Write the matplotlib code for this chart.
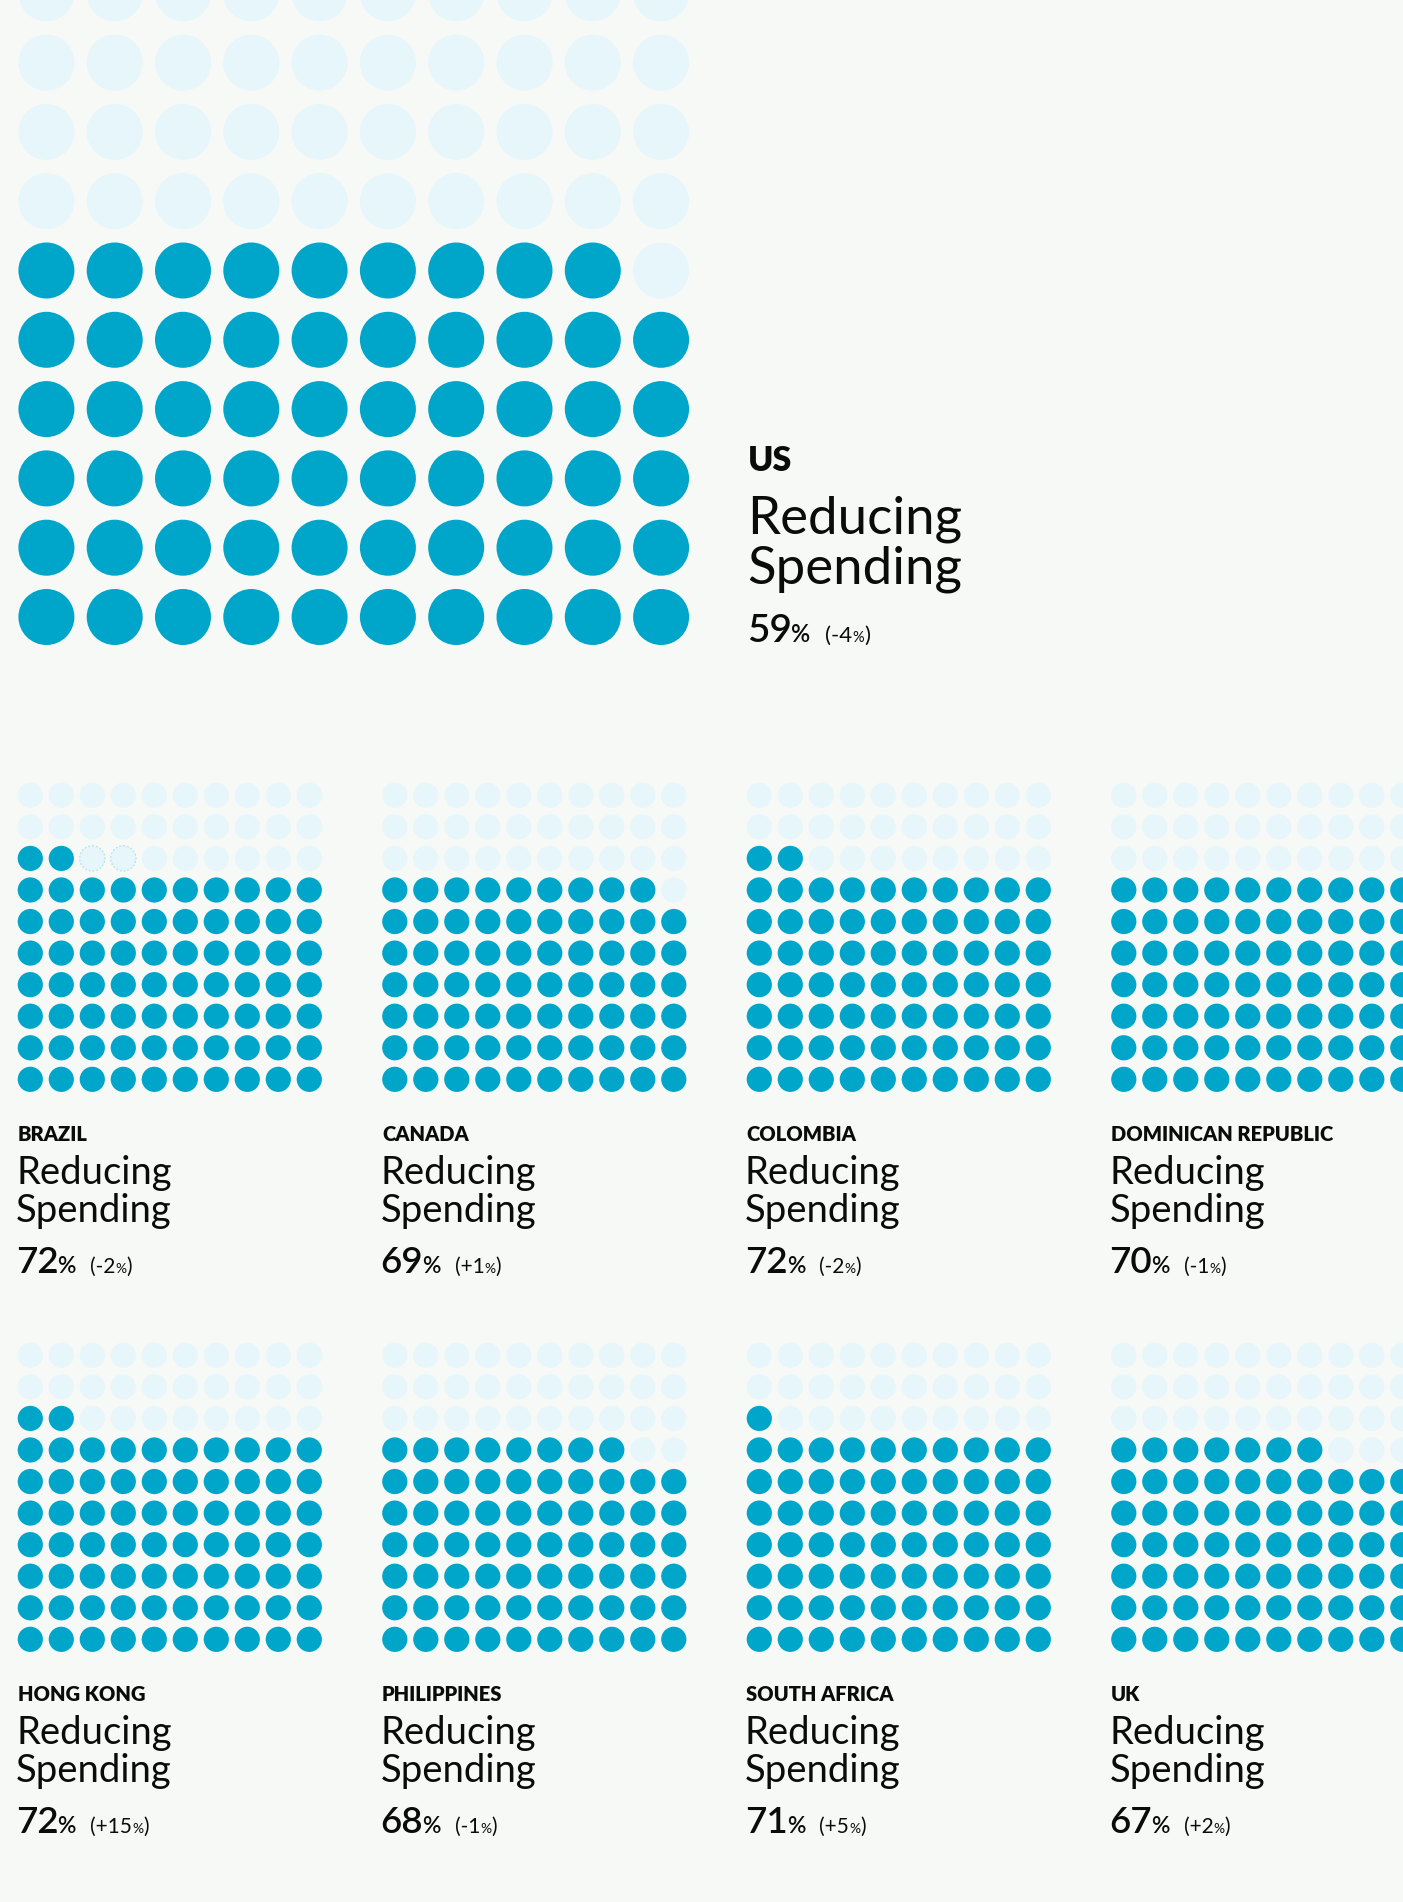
import matplotlib
matplotlib.use("Agg")
import matplotlib.pyplot as plt
from matplotlib.patches import Circle

# data
countries = ["BRAZIL", "CANADA", "COLOMBIA", "DOMINICAN REPUBLIC",
             "HONG KONG", "PHILIPPINES", "SOUTH AFRICA", "UK"]
shares = [72, 69, 72, 70, 72, 68, 71, 67]
changes = ["-2", "+1", "-2", "-1", "+15", "-1", "+5", "+2"]
us_name = "US"
us_share = 59
us_change = "-4"
metric = "Reducing\nSpending"

BG = "#F7F9F6"
FULL = "#00A6C9"
EMPTY = "#E6F6FB"
INK = "#0B0B0B"
FONT = "Lato"

W, H = 1403, 1902
fig = plt.figure(figsize=(W / 100, H / 100), dpi=100)
fig.patch.set_facecolor(BG)
ax = fig.add_axes([0, 0, 1, 1])
ax.set_xlim(0, W)
ax.set_ylim(H, 0)
ax.axis("off")
ax.set_facecolor(BG)


def waffle(x0, ytop, dx, dy, r, value, ghost=()):
    # fills from bottom row, left to right
    for i in range(100):
        row, col = divmod(i, 10)
        cx = x0 + col * dx
        cy = ytop + (9 - row) * dy
        c = FULL if i < value else EMPTY
        ec = "#B5E2EE" if i in ghost else "none"
        ax.add_patch(Circle((cx, cy), r, facecolor=c, edgecolor=ec,
                            linewidth=0.9, linestyle=(0, (1.5, 1.5))))


def put(x, y, s, size, weight="normal", color=INK):
    return ax.text(x, y, s, fontsize=size, fontweight=weight, family=FONT,
                   color=color, ha="left", va="baseline")


rend = fig.canvas.get_renderer()


def right_edge(t):
    return t.get_window_extent(rend).x1


def pct_line(x, y, share, change, big, mid, small, tiny, gap):
    t = put(x, y, str(share), big, "semibold")
    t = put(right_edge(t) - 1, y, "%", mid, "semibold")
    t = put(right_edge(t) + gap, y, "(" + change, small, "normal")
    t = put(right_edge(t), y, "%", tiny, "normal")
    put(right_edge(t), y, ")", small, "normal")


# big US panel
waffle(46.4, -6.7, 68.3, 69.3, 28.0, us_share)
ux = 748
put(ux, 470.7, us_name, 24.5, "heavy")
lines = metric.split("\n")
put(ux - 1, 533.3, lines[0], 38)
put(ux - 1, 583.3, lines[1], 38)
pct_line(ux - 1, 642.3, us_share, us_change, 28, 17, 16, 10.5, 15)

# small panels
for k, (name, v, ch) in enumerate(zip(countries, shares, changes)):
    col, prow = k % 4, k // 4
    x0 = 30.3 + col * 364.5
    ytop = 795.3 + prow * 560
    ghost = (72, 73) if name == "BRAZIL" else ()
    waffle(x0, ytop, 31.0, 31.56, 12.6, v, ghost)
    tx = x0 - 14.3
    put(tx + 1.5, ytop + 345.7, name, 14.5, "heavy")
    put(tx, ytop + 388.7, lines[0], 27.5)
    put(tx, ytop + 426.7, lines[1], 27.5)
    pct_line(tx, ytop + 477.7, v, ch, 26.5, 16.5, 15, 10, 14)

fig.savefig("out.png", dpi=100, facecolor=BG)
